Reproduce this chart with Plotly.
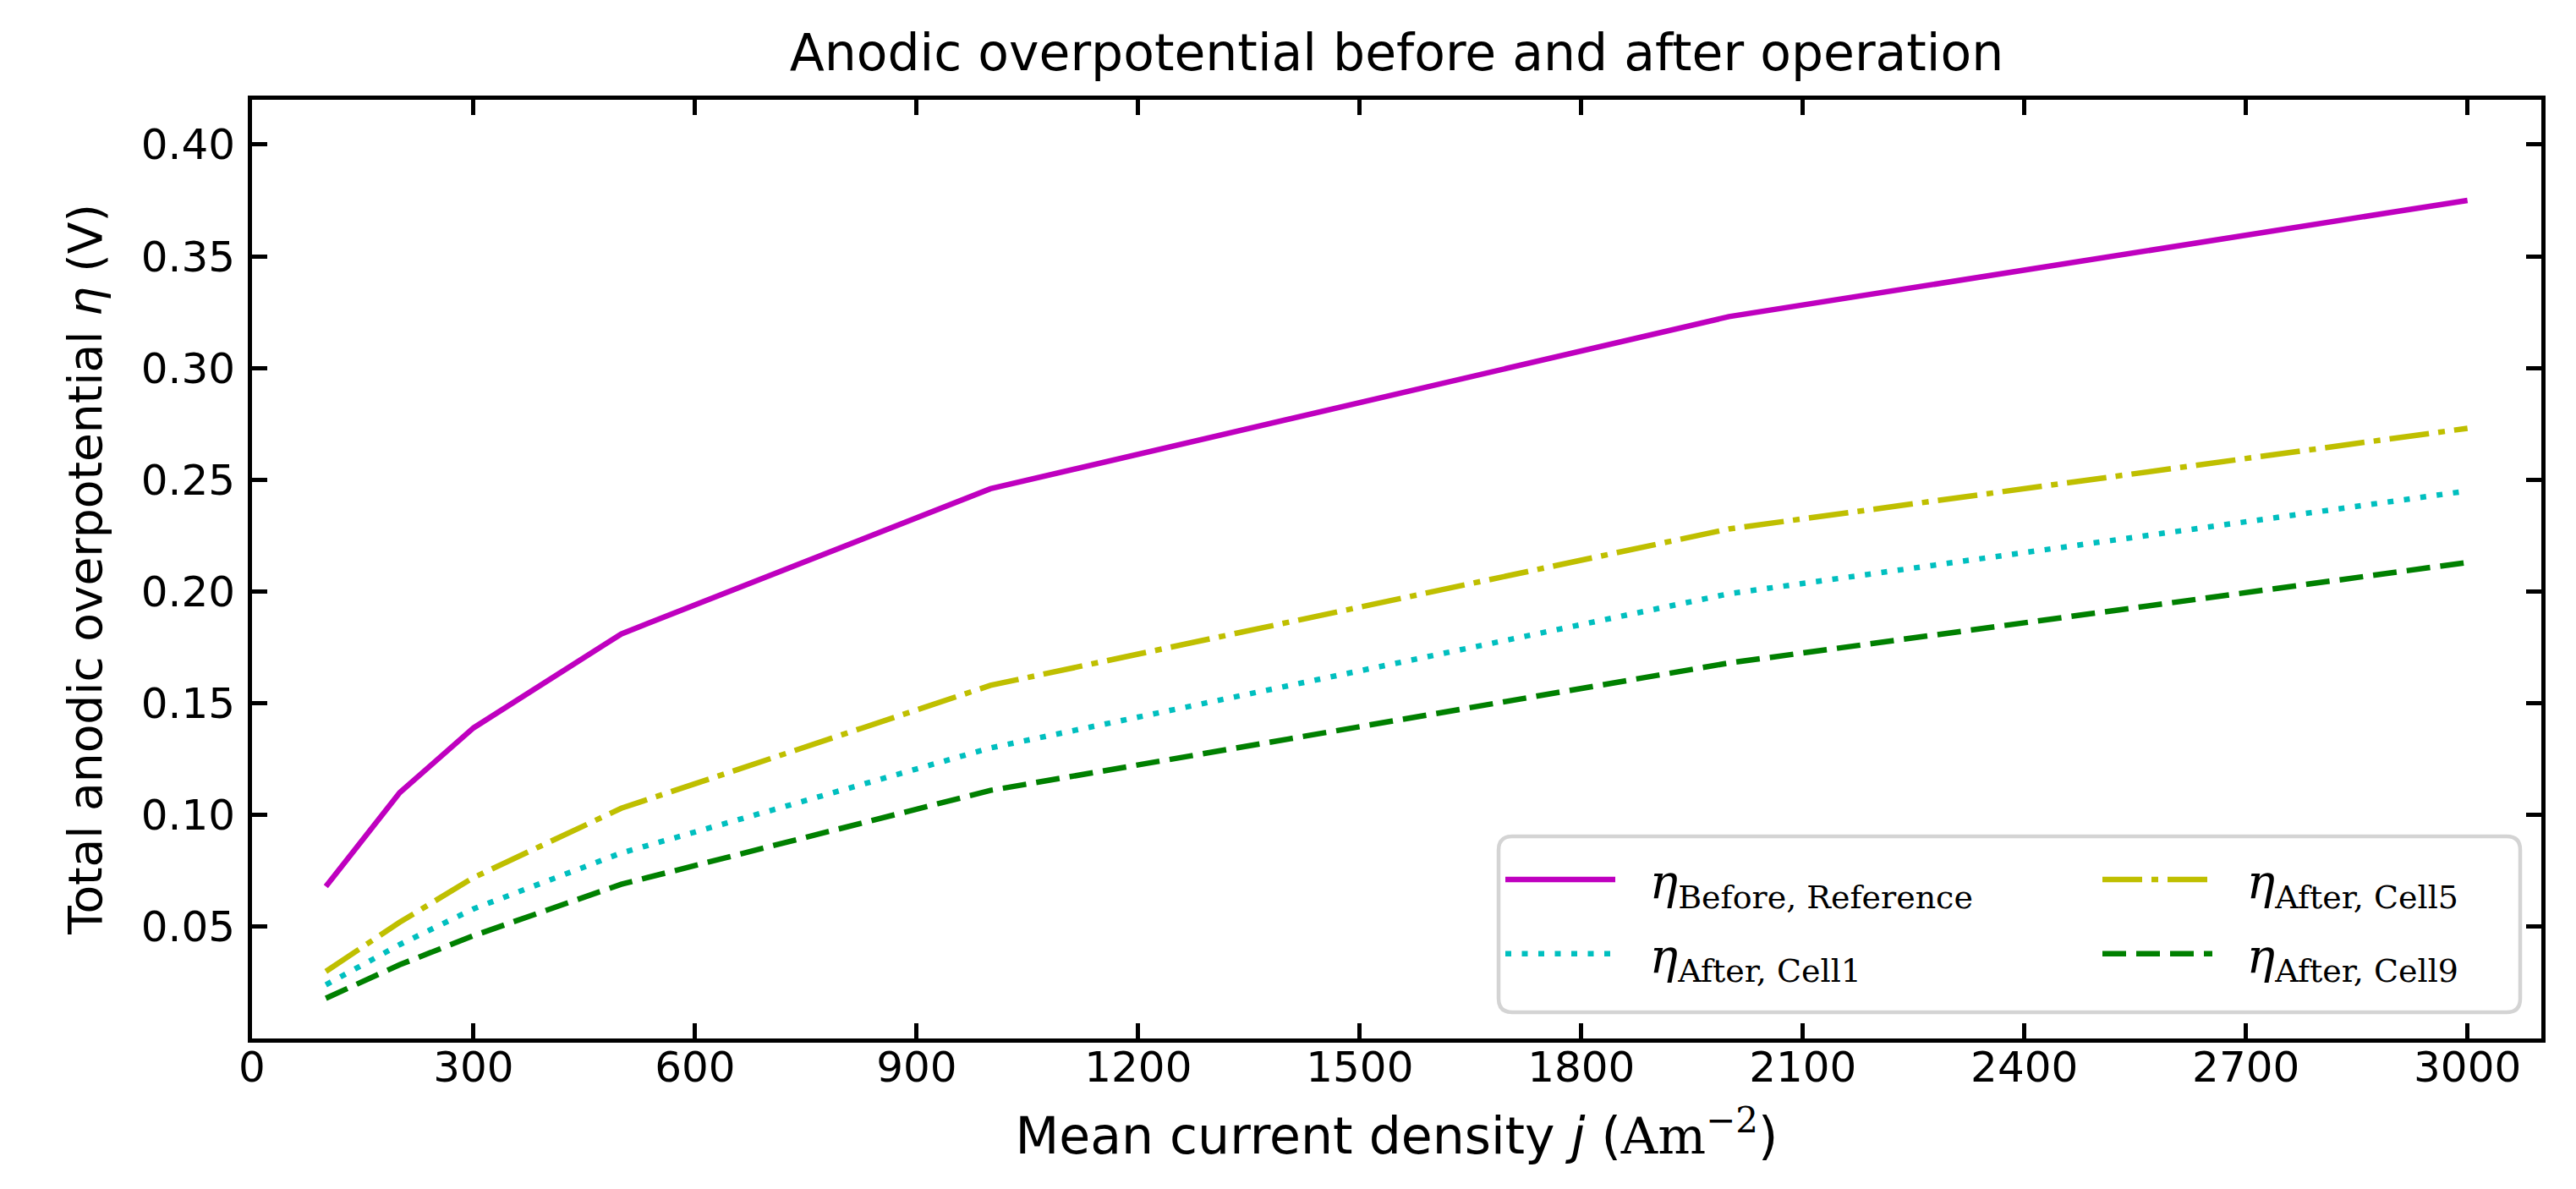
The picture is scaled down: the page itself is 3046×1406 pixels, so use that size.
import plotly.graph_objects as go

# ---- data ----
current_density = [100, 200, 300, 500, 1000, 2000, 3000]
eta_before_reference = [0.068, 0.110, 0.139, 0.181, 0.246, 0.323, 0.375]
eta_after_cell1 = [0.024, 0.042, 0.058, 0.083, 0.130, 0.199, 0.245]
eta_after_cell5 = [0.030, 0.052, 0.072, 0.103, 0.158, 0.228, 0.273]
eta_after_cell9 = [0.018, 0.033, 0.046, 0.069, 0.111, 0.168, 0.213]

x_ticks = [0, 300, 600, 900, 1200, 1500, 1800, 2100, 2400, 2700, 3000]
y_ticks = [0.05, 0.10, 0.15, 0.20, 0.25, 0.30, 0.35, 0.40]
y_tick_labels = ["0.05", "0.10", "0.15", "0.20", "0.25", "0.30", "0.35", "0.40"]

W, H = 3046, 1406
L, R, T, B = 290, 49, 110, 186
pw, ph = W - L - R, H - T - B

SERIF = "DejaVu Serif"
SANS = "DejaVu Sans"


def leg_name(sub):
    return ('&nbsp;&nbsp;<span style="font-family:%s"><i>η</i><sub><span style="font-size:38px">%s</span></sub></span>'
            % (SERIF, sub))


series = [
    (eta_before_reference, leg_name("Before, Reference"), "#bf00bf", "solid", "legend", "g1"),
    (eta_after_cell1, leg_name("After, Cell1"), "#00bfbf", "7px,12.5px", "legend", "g2"),
    (eta_after_cell5, leg_name("After, Cell5"), "#bfbf00", "47px,11px,8px,11px", "legend2", "g3"),
    (eta_after_cell9, leg_name("After, Cell9"), "#008000", "28px,12px", "legend2", "g4"),
]

fig = go.Figure()
for ys, name, color, dash, leg, grp in series:
    fig.add_trace(go.Scatter(
        x=current_density, y=ys, mode="lines", name=name,
        line=dict(color=color, width=6.5, dash=dash),
        legend=leg, legendgroup=grp,
    ))


def px_x(p):
    return (p - L) / pw


def px_y(p):
    return (H - B - p) / ph


# rounded legend frame (paper coords)
x0, x1 = px_x(1764), px_x(2972)
y0, y1 = px_y(1189), px_y(981)
rx, ry = 16 / pw, 16 / ph
path = (f"M{x0+rx},{y0} L{x1-rx},{y0} Q{x1},{y0} {x1},{y0+ry} "
        f"L{x1},{y1-ry} Q{x1},{y1} {x1-rx},{y1} L{x0+rx},{y1} "
        f"Q{x0},{y1} {x0},{y1-ry} L{x0},{y0+ry} Q{x0},{y0} {x0+rx},{y0} Z")
fig.add_shape(type="path", path=path, xref="paper", yref="paper",
              line=dict(color="#d4d4d4", width=4.5), fillcolor="rgba(255,255,255,0.8)",
              layer="above")

legend_common = dict(
    bgcolor="rgba(0,0,0,0)", borderwidth=0, orientation="v",
    font=dict(family=SERIF, size=56, color="black"),
    itemwidth=130, tracegroupgap=12, xanchor="left", yanchor="top",
    itemclick=False, itemdoubleclick=False,
)

axis_common = dict(
    showline=True, linecolor="black", linewidth=4.7, mirror="allticks",
    ticks="inside", ticklen=18, tickwidth=4.5, tickcolor="black",
    showgrid=False, zeroline=False,
    tickfont=dict(family=SANS, size=50, color="black"),
)

fig.update_layout(
    width=W, height=H,
    margin=dict(l=L, r=R, t=T, b=B),
    paper_bgcolor="white", plot_bgcolor="white",
    font=dict(family=SANS, color="black"),
    title=dict(text="Anodic overpotential before and after operation",
               font=dict(family=SANS, size=60, color="black"),
               x=(L + pw / 2) / W, xanchor="center",
               y=1 - 54 / H, yanchor="middle", yref="container"),
    xaxis=dict(
        **axis_common, range=[0, 3100], tickvals=x_ticks,
        ticklabelstandoff=-14,
        title=dict(text='Mean current density <i>j</i> (<span style="font-family:%s">Am<sup>−2</sup></span>)' % SERIF,
                   font=dict(family=SANS, size=60, color="black"), standoff=34),
    ),
    yaxis=dict(
        **axis_common, range=[0.0, 0.42], tickvals=y_ticks, ticktext=y_tick_labels,
        ticklabelstandoff=5,
        title=dict(text="Total anodic overpotential <i>η</i> (V)",
                   font=dict(family=SANS, size=55, color="black"), standoff=30),
    ),
    legend=dict(**legend_common, x=px_x(1767), y=px_y(989)),
    legend2=dict(**legend_common, x=px_x(2473), y=px_y(989)),
    showlegend=True,
)

fig.write_html("out.html")
